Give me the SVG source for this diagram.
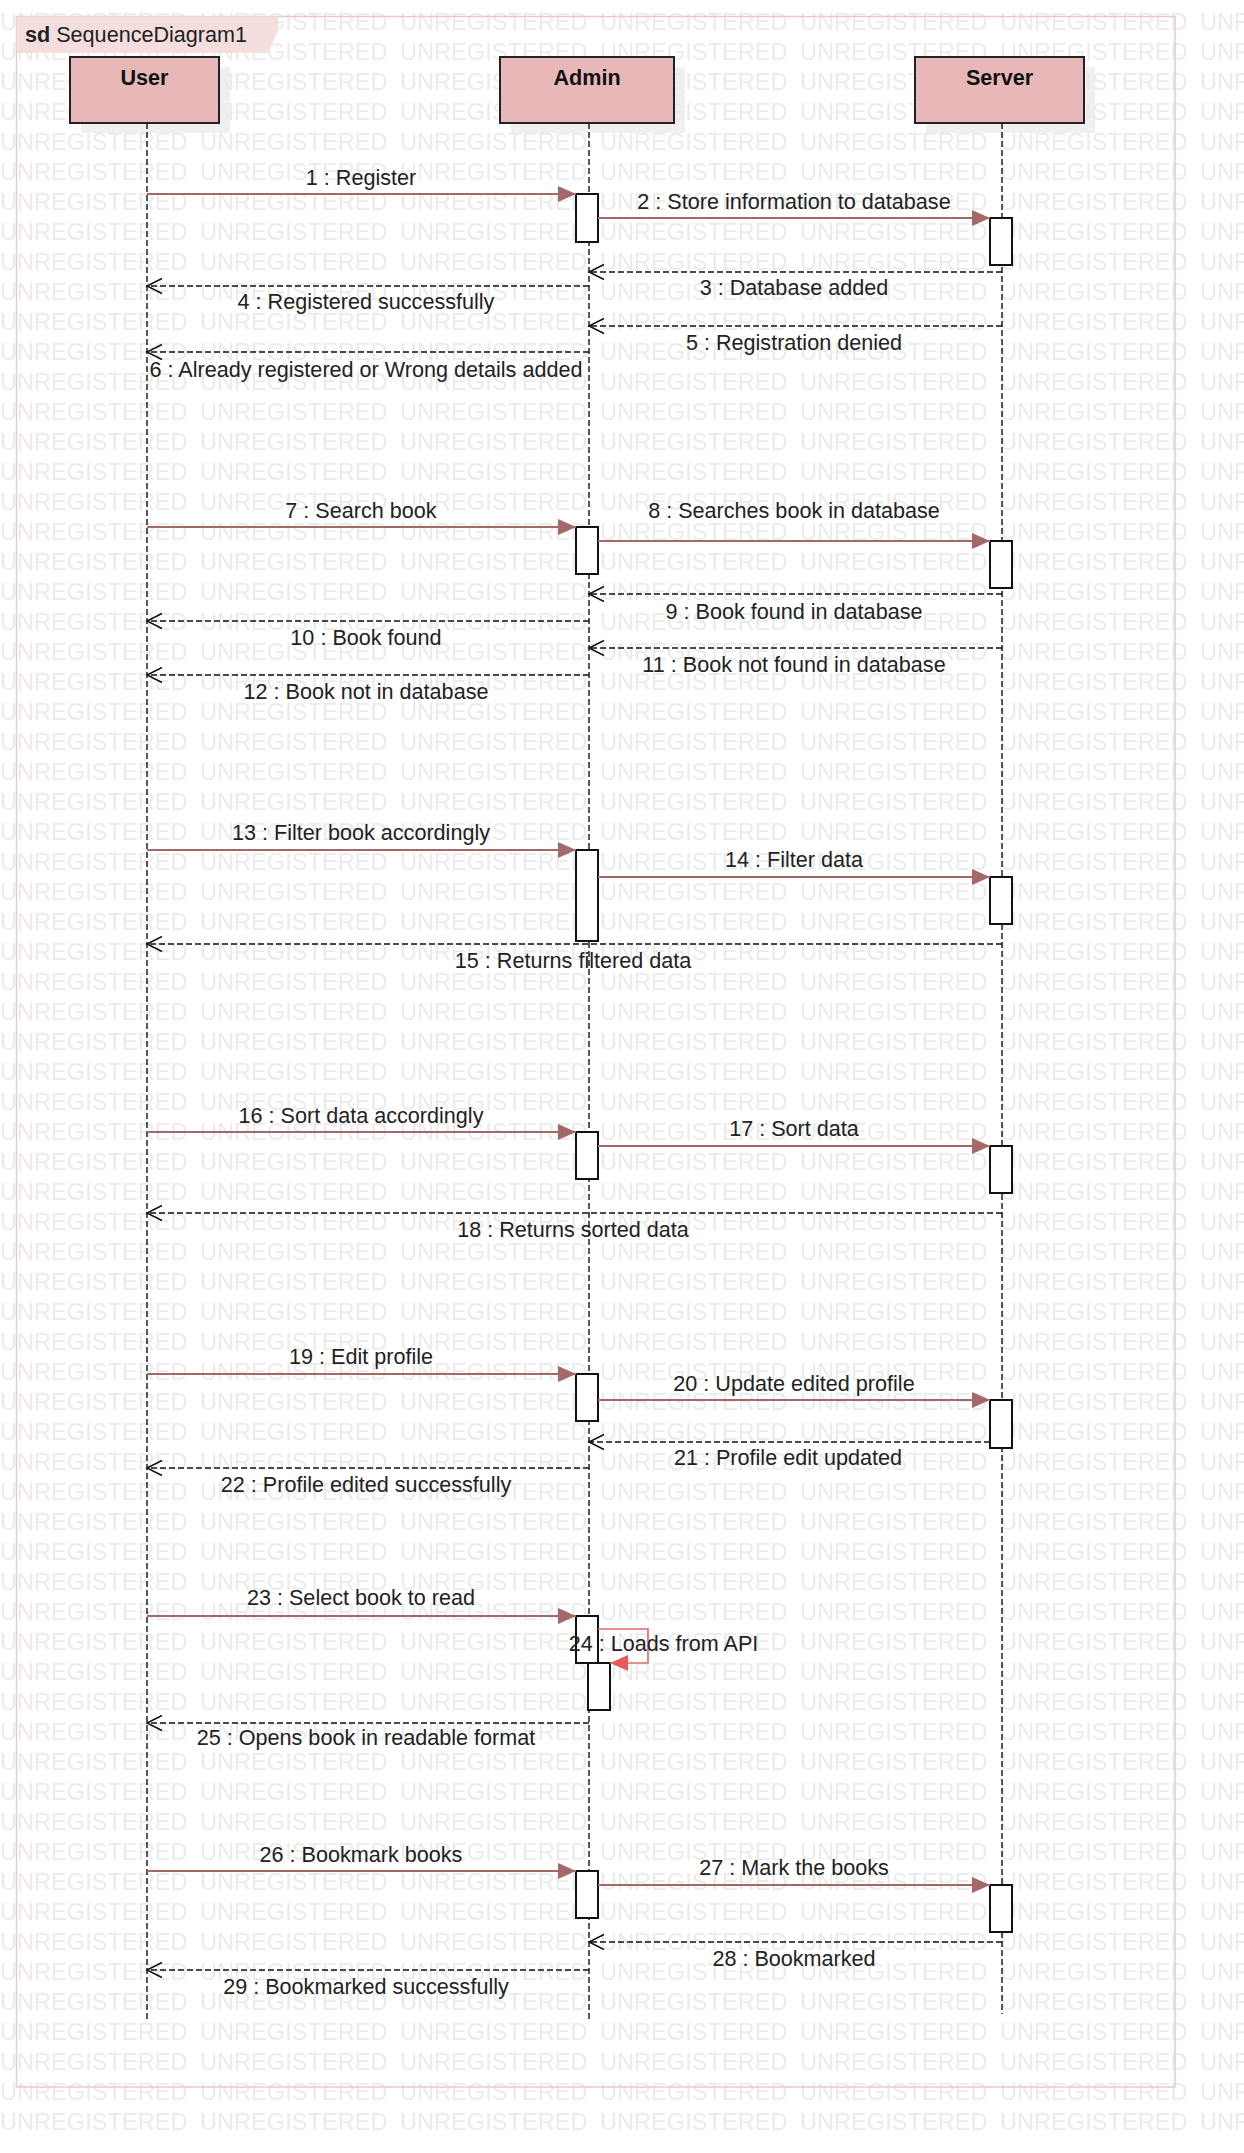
<svg xmlns="http://www.w3.org/2000/svg" width="1244" height="2153" viewBox="0 0 1244 2153">
<style>
.wm{font-family:"Liberation Sans",Arial,sans-serif;font-size:23.6px;fill:#ebebeb}
.box{fill:#e8b8b8;stroke:#222;stroke-width:2}
.shadow{fill:#f0f0f0}
.actor{font-family:"Liberation Sans",Arial,sans-serif;font-size:21.6px;font-weight:bold;fill:#111;text-anchor:middle}
.life{stroke:#111;stroke-width:1.4;stroke-dasharray:6 3;fill:none}
.act{fill:#fff;stroke:#111;stroke-width:2}
.msg{stroke:#a36868;stroke-width:2;fill:none;marker-end:url(#sync)}
.ret{stroke:#111;stroke-width:1.5;stroke-dasharray:6 3;fill:none;marker-end:url(#open)}
.self{stroke:#e06a6a;stroke-width:1.6;fill:none;marker-end:url(#selfh)}
.lbl{font-family:"Liberation Sans",Arial,sans-serif;font-size:21.6px;fill:#222;text-anchor:middle}
.title{font-family:"Liberation Sans",Arial,sans-serif;font-size:21.6px;fill:#222}
</style>
<defs>
<pattern id="wm" x="0" y="0" width="200" height="30" patternUnits="userSpaceOnUse"><text x="0" y="29.5" class="wm">UNREGISTERED</text></pattern>
<marker id="sync" markerUnits="userSpaceOnUse" markerWidth="18" markerHeight="16" refX="18" refY="8" orient="auto"><path d="M0,0 L18,8 L0,16 z" fill="#a36868"/></marker>
<marker id="open" markerUnits="userSpaceOnUse" markerWidth="18" markerHeight="18" refX="16" refY="9" orient="auto"><path d="M1,1.5 L16,9 L1,16.5" fill="none" stroke="#111" stroke-width="1.5"/></marker>
<marker id="selfh" markerUnits="userSpaceOnUse" markerWidth="18" markerHeight="16" refX="18" refY="8" orient="auto"><path d="M0,0 L18,8 L0,16 z" fill="#e65a5a"/></marker>
</defs>
<rect x="0" y="0" width="1244" height="2153" fill="#fff"/>
<g id="shadows">
<rect class="shadow" x="81" y="67" width="149" height="66"/>
<rect class="shadow" x="511" y="67" width="174" height="66"/>
<rect class="shadow" x="926" y="67" width="169" height="66"/>
</g>
<g id="watermark"><rect x="0" y="0" width="1244" height="2131" fill="url(#wm)"/></g>
<g id="frame">
<rect x="16.5" y="16.5" width="1158.5" height="2070.5" fill="none" stroke="#e9caca" stroke-width="1.5"/>
<path d="M16.5,16.5 L278,16.5 L278,31 L267,53 L16.5,53 z" fill="#f3dddd"/>
<text class="title" x="25" y="42"><tspan font-weight="bold">sd</tspan> SequenceDiagram1</text>
</g>
<g id="node-user">
<rect class="box" x="70" y="57" width="149" height="66"/>
<text class="actor" x="144.5" y="85">User</text>
<line class="life" x1="147" y1="123" x2="147" y2="2020"/>
</g>
<g id="node-admin">
<rect class="box" x="500" y="57" width="174" height="66"/>
<text class="actor" x="587" y="85">Admin</text>
<line class="life" x1="589" y1="123" x2="589" y2="2020"/>
<rect class="act" x="576" y="194" width="22" height="48"/>
<rect class="act" x="576" y="527" width="22" height="47"/>
<rect class="act" x="576" y="850" width="22" height="91"/>
<rect class="act" x="576" y="1132" width="22" height="47"/>
<rect class="act" x="576" y="1374" width="22" height="47"/>
<rect class="act" x="576" y="1616" width="22" height="47"/>
<rect class="act" x="588" y="1663" width="22" height="47"/>
<rect class="act" x="576" y="1871" width="22" height="47"/>
</g>
<g id="node-server">
<rect class="box" x="915" y="57" width="169" height="66"/>
<text class="actor" x="999.5" y="85">Server</text>
<line class="life" x1="1002" y1="123" x2="1002" y2="2014"/>
<rect class="act" x="990" y="218" width="22" height="47"/>
<rect class="act" x="990" y="541" width="22" height="47"/>
<rect class="act" x="990" y="877" width="22" height="47"/>
<rect class="act" x="990" y="1146" width="22" height="47"/>
<rect class="act" x="990" y="1400" width="22" height="48"/>
<rect class="act" x="990" y="1885" width="22" height="47"/>
</g>
<g id="connectors">
<line class="msg" x1="147" y1="194" x2="576" y2="194"/>
<line class="msg" x1="598" y1="218" x2="990" y2="218"/>
<line class="ret" x1="1002" y1="272" x2="589" y2="272"/>
<line class="ret" x1="589" y1="286" x2="147" y2="286"/>
<line class="ret" x1="1002" y1="326" x2="589" y2="326"/>
<line class="ret" x1="589" y1="352" x2="147" y2="352"/>
<line class="msg" x1="147" y1="527" x2="576" y2="527"/>
<line class="msg" x1="598" y1="541" x2="990" y2="541"/>
<line class="ret" x1="1002" y1="594" x2="589" y2="594"/>
<line class="ret" x1="589" y1="621" x2="147" y2="621"/>
<line class="ret" x1="1002" y1="648" x2="589" y2="648"/>
<line class="ret" x1="589" y1="675" x2="147" y2="675"/>
<line class="msg" x1="147" y1="850" x2="576" y2="850"/>
<line class="msg" x1="598" y1="877" x2="990" y2="877"/>
<line class="ret" x1="1002" y1="944" x2="147" y2="944"/>
<line class="msg" x1="147" y1="1132" x2="576" y2="1132"/>
<line class="msg" x1="598" y1="1146" x2="990" y2="1146"/>
<line class="ret" x1="1002" y1="1213" x2="147" y2="1213"/>
<line class="msg" x1="147" y1="1374" x2="576" y2="1374"/>
<line class="msg" x1="598" y1="1400" x2="990" y2="1400"/>
<line class="ret" x1="990" y1="1442" x2="589" y2="1442"/>
<line class="ret" x1="589" y1="1468" x2="147" y2="1468"/>
<line class="msg" x1="147" y1="1616" x2="576" y2="1616"/>
<polyline class="self" points="598,1629 648,1629 648,1663 610,1663"/>
<line class="ret" x1="589" y1="1723" x2="147" y2="1723"/>
<line class="msg" x1="147" y1="1871" x2="576" y2="1871"/>
<line class="msg" x1="598" y1="1885" x2="990" y2="1885"/>
<line class="ret" x1="1002" y1="1942" x2="589" y2="1942"/>
<line class="ret" x1="589" y1="1970" x2="147" y2="1970"/>
<text class="lbl" x="361" y="185">1 : Register</text>
<text class="lbl" x="794" y="209">2 : Store information to database</text>
<text class="lbl" x="794" y="295">3 : Database added</text>
<text class="lbl" x="366" y="309">4 : Registered successfully</text>
<text class="lbl" x="794" y="350">5 : Registration denied</text>
<text class="lbl" x="366" y="377">6 : Already registered or Wrong details added</text>
<text class="lbl" x="361" y="518">7 : Search book</text>
<text class="lbl" x="794" y="518">8 : Searches book in database</text>
<text class="lbl" x="794" y="619">9 : Book found in database</text>
<text class="lbl" x="366" y="645">10 : Book found</text>
<text class="lbl" x="794" y="672">11 : Book not found in database</text>
<text class="lbl" x="366" y="699">12 : Book not in database</text>
<text class="lbl" x="361" y="840">13 : Filter book accordingly</text>
<text class="lbl" x="794" y="867">14 : Filter data</text>
<text class="lbl" x="573" y="968">15 : Returns filtered data</text>
<text class="lbl" x="361" y="1123">16 : Sort data accordingly</text>
<text class="lbl" x="794" y="1136">17 : Sort data</text>
<text class="lbl" x="573" y="1237">18 : Returns sorted data</text>
<text class="lbl" x="361" y="1364">19 : Edit profile</text>
<text class="lbl" x="794" y="1391">20 : Update edited profile</text>
<text class="lbl" x="788" y="1465">21 : Profile edit updated</text>
<text class="lbl" x="366" y="1492">22 : Profile edited successfully</text>
<text class="lbl" x="361" y="1605">23 : Select book to read</text>
<text class="lbl" x="663.5" y="1651">24 : Loads from API</text>
<text class="lbl" x="366" y="1745">25 : Opens book in readable format</text>
<text class="lbl" x="361" y="1862">26 : Bookmark books</text>
<text class="lbl" x="794" y="1875">27 : Mark the books</text>
<text class="lbl" x="794" y="1966">28 : Bookmarked</text>
<text class="lbl" x="366" y="1994">29 : Bookmarked successfully</text>
</g>
</svg>
